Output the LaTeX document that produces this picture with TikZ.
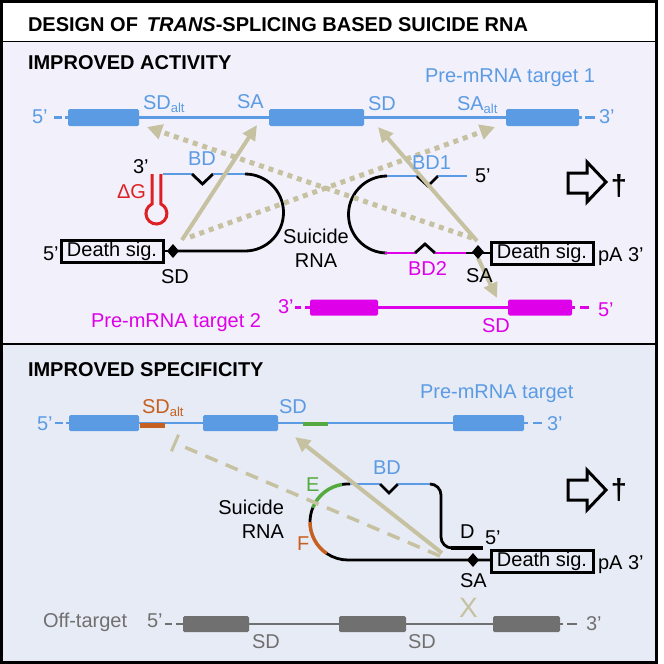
\documentclass[tikz,border=0pt]{standalone}
\usepackage{fontspec}
\setmainfont{Liberation Sans}
\usetikzlibrary{arrows.meta,shapes.geometric,calc}
\definecolor{tblue}{RGB}{91,155,228}
\definecolor{tmag}{RGB}{222,0,232}
\definecolor{tred}{RGB}{222,32,36}
\definecolor{khaki}{RGB}{198,193,160}
\definecolor{torange}{RGB}{198,96,32}
\definecolor{tgreen}{RGB}{84,170,64}
\definecolor{tgray}{RGB}{112,112,112}
\definecolor{bgtop}{RGB}{242,241,251}
\definecolor{bgbot}{RGB}{231,235,245}
\newcommand{\altsub}{\raisebox{-3pt}{\fontsize{13}{13}\selectfont alt}}
\begin{document}
\begin{tikzpicture}[x=1pt,y=-1pt,
  every node/.style={inner sep=0pt,outer sep=0pt},
  lbl/.style={anchor=base west,font=\fontsize{20}{24}\selectfont},
  ctr/.style={anchor=base,font=\fontsize{20}{24}\selectfont},
  hdr/.style={anchor=base west,font=\bfseries\fontsize{20}{24}\selectfont},
  exon/.style={rounded corners=1.5pt},
  tline/.style={line width=2.5pt},
  rna/.style={line width=2.8pt,draw=black},
  dsbox/.style={draw=black,line width=3pt,minimum width=102pt,minimum height=22pt,font=\fontsize{20}{24}\selectfont},
  site/.style={shape=diamond,fill=black,minimum width=12pt,minimum height=14pt},
  solidarr/.style={draw=khaki,line width=4pt,-{Triangle[length=15pt,width=14pt]}},
  dotarr/.style={draw=khaki,line width=5pt,dash pattern=on 5pt off 5pt,-{Triangle[length=15pt,width=15pt]}},
  blockarr/.style={draw=black,line width=3pt,line join=miter},
  dag/.style={font=\bfseries\fontsize{29}{29}\selectfont}
]
\useasboundingbox (0,0) rectangle (664,664);
% backgrounds and frame
\fill[white] (0,0) rectangle (664,664);
\fill[bgtop] (1.5,41.5) rectangle (656,344);
\fill[bgbot] (1.5,344) rectangle (656,662);
\draw[line width=3pt] (1.5,1.5) rectangle (656,662.5);
\draw[line width=1.5pt] (1.5,41.5) -- (656,41.5);
\draw[line width=2pt] (1.5,344) -- (656,344);

\node[hdr] (title) at (28,31) {DESIGN OF \,\textit{TRANS}-SPLICING BASED SUICIDE RNA};

%================ TOP PANEL =================
\node[hdr] (h1) at (28,69) {IMPROVED ACTIVITY};
% target 1
\draw[tline,tblue] (68,117.5) -- (579,117.5);
\draw[tline,tblue] (54,117.5) -- (62,117.5) (65,117.5) -- (68,117.5);
\draw[tline,tblue] (579,117.5) -- (582,117.5) (585,117.5) -- (595,117.5);
\fill[tblue,exon] (68,109) rectangle (139,126);
\fill[tblue,exon] (269,109) rectangle (364,126);
\fill[tblue,exon] (506,109) rectangle (579,126);

% target 2
\draw[tline,tmag] (310,307.5) -- (572,307.5);
\draw[tline,tmag] (295,307.5) -- (301,307.5) (305,307.5) -- (310,307.5);
\draw[tline,tmag] (572,307.5) -- (575,307.5) (580,307.5) -- (589,307.5);
\fill[tmag,exon] (310,299.5) rectangle (378,315.5);
\fill[tmag,exon] (508,299.5) rectangle (572,315.5);

% suicide RNA left
\draw[tline,tblue] (163,174) -- (192,174);
\draw[rna,line join=miter] (192,174) -- (202.5,184) -- (213,174);
\draw[tline,tblue] (213,174) -- (245,174);
\draw[rna] (245,174) arc[start angle=-90,end angle=90,radius=38.5] -- (178,251);
% hairpin
\draw[line width=3pt,tred] (152,174) -- (152,204) arc[start angle=245,end angle=-65,radius=10.5] -- (161,174);

% suicide RNA right
\draw[tline,tblue] (387,176) -- (417,176);
\draw[rna,line join=miter] (417,176) -- (428,186) -- (438,176);
\draw[tline,tblue] (438,176) -- (467,176);
\draw[rna] (387,176) arc[start angle=270,end angle=90,radius=38.5];
\draw[tline,tmag] (385,253) -- (415,253);
\draw[rna,line join=miter] (415,253) -- (425,244) -- (435,253);
\draw[tline,tmag] (435,253) -- (466,253);
\draw[rna] (466,253) -- (492,253);

\node[dsbox] (boxL) at (112,251) {Death sig.};
\node[dsbox] (boxR) at (542,253.5) {Death sig.};
\draw[rna] (163,251) -- (173,251);

% arrows top
\coordinate (aSD) at (182,240);
\coordinate (aSD2) at (190,237);
\coordinate (aSA) at (477,241);
\coordinate (aSA2) at (472,238);
\coordinate (aSA3) at (478,258);
\coordinate (tSA) at (257,125);
\coordinate (tSAalt) at (495,127);
\coordinate (tSD) at (378,127);
\coordinate (tSDalt) at (147,127);
\coordinate (tSDm) at (497,298);
\draw[dotarr] (aSD2) -- (tSAalt);
\draw[dotarr] (aSA2) -- (tSDalt);
\draw[solidarr] (aSD) -- (tSA);
\draw[solidarr] (aSA) -- (tSD);
\draw[solidarr] (aSA3) -- (tSDm);

\node[site] (dL) at (173,251) {};
\node[site] (dR) at (478,252) {};

% labels top
\node[lbl,text=tblue] (pm1) at (425,82) {Pre-mRNA target 1};
\node[lbl,text=tblue] (sdalt1) at (143,109) {SD\altsub};
\node[lbl,text=tblue] (sa1) at (237,108.5) {SA};
\node[lbl,text=tblue] (sd1) at (368,110) {SD};
\node[lbl,text=tblue] (saalt1) at (457,110) {SA\altsub};
\node[lbl,text=tblue] (f5a) at (32,123.5) {5’};
\node[lbl,text=tblue] (t3a) at (599,123.5) {3’};
\node[lbl] (l3) at (133,173) {3’};
\node[lbl,text=tblue] (bdl) at (188,165) {BD};
\node[lbl,text=tred] (dg) at (117,198) {ΔG};
\node[lbl] (l5) at (43,260) {5’};
\node[lbl] (sdL) at (161,283) {SD};
\node[ctr] (sui1) at (316,243) {Suicide};
\node[ctr] (sui2) at (316,267) {RNA};
\node[lbl,text=tblue] (bd1) at (412,169) {BD1};
\node[lbl] (r5) at (475,182) {5’};
\node[lbl,text=tmag] (bd2) at (408,275) {BD2};
\node[lbl] (saR) at (466,282) {SA};
\node[lbl] (pa1) at (598,261) {pA 3’};
\node[lbl,text=tmag] (m3) at (278,313) {3’};
\node[lbl,text=tmag] (m5) at (598,316) {5’};
\node[lbl,text=tmag] (pm2) at (91,327) {Pre-mRNA target 2};
\node[lbl,text=tmag] (sdm) at (482,332) {SD};

\draw[blockarr] (568,173) -- (587,173) -- (587,162) -- (606,182) -- (587,202) -- (587,193) -- (568,193) -- cycle;
\node[dag] (dag1) at (619,186) {†};

%================ BOTTOM PANEL =================
\node[hdr] (h2) at (28,376) {IMPROVED SPECIFICITY};
\draw[tline,tblue] (69,423) -- (524,423);
\draw[tline,tblue] (55,423) -- (63,423) (66,423) -- (69,423);
\draw[tline,tblue] (524,423) -- (528,423) (533,423) -- (542,423);
\fill[tblue,exon] (69,415) rectangle (139,431);
\fill[tblue,exon] (203,415) rectangle (278,431);
\fill[tblue,exon] (453,415) rectangle (524,431);
\draw[line width=4.5pt,torange] (140,425.5) -- (165,425.5);
\draw[line width=4.5pt,tgreen] (303,424) -- (328,424);

% off-target
\draw[tline,tgray] (183,624) -- (560,624);
\draw[tline,tgray] (165,624) -- (172,624) (176,624) -- (183,624);
\draw[tline,tgray] (560,624) -- (563,624) (567,624) -- (577,624);
\fill[tgray,exon] (183,616) rectangle (249,632);
\fill[tgray,exon] (339,616) rectangle (406,632);
\fill[tgray,exon] (493,616) rectangle (560,632);

% suicide RNA bottom
\coordinate (cc) at (348,522);
\draw[rna] (350,484) -- (348,484) arc[start angle=270,end angle=261,radius=38];
\draw[line width=3.5pt,tgreen] (cc) ++(261:38) arc[start angle=261,end angle=202,radius=38];
\draw[rna] (cc) ++(202:38) arc[start angle=202,end angle=180,radius=38];
\draw[line width=3.5pt,torange] (cc) ++(180:38) arc[start angle=180,end angle=124,radius=38];
\draw[rna] (cc) ++(124:38) arc[start angle=124,end angle=90,radius=38] -- (492,560);
\draw[tline,tblue] (350,484) -- (380,484);
\draw[rna,line join=miter] (380,484) -- (389,493) -- (398,484);
\draw[tline,tblue] (398,484) -- (430,484);
\draw[rna] (430,484) arc[start angle=270,end angle=360,radius=11] -- (441,537) arc[start angle=180,end angle=90,radius=11];
\draw[line width=4pt] (451,548) -- (483,548);
\node[dsbox] (boxB) at (542,561) {Death sig.};

% arrows bottom
\coordinate (bSA) at (442,553);
\coordinate (bSA2) at (440,556);
\coordinate (tSDb) at (295,437);
\coordinate (tSDaltb) at (175,443);
\draw[draw=khaki,line width=3.5pt,dash pattern=on 13pt off 9pt] (bSA2) -- ($(tSDaltb)!6pt!(bSA2)$);
\draw[draw=khaki,line width=3pt] ($(tSDaltb)!9pt!90:(bSA2)$) -- ($(tSDaltb)!9pt!-90:(bSA2)$);
\draw[solidarr] (bSA) -- (tSDb);
\node[site] (dB) at (473,560) {};

% labels bottom
\node[lbl,text=tblue] (pmb) at (420,398) {Pre-mRNA target};
\node[lbl,text=torange] (sdaltb) at (142,413) {SD\altsub};
\node[lbl,text=tblue] (sdb) at (279,413) {SD};
\node[lbl,text=tblue] (b5) at (37,430) {5’};
\node[lbl,text=tblue] (b3) at (547,430) {3’};
\node[lbl,text=tblue] (bdb) at (373,474) {BD};
\node[lbl,text=tgreen] (E) at (306,491) {E};
\node[lbl,text=torange] (F) at (297,550) {F};
\node[anchor=base east,font=\fontsize{20}{24}\selectfont] (suib1) at (284,514) {Suicide};
\node[anchor=base east,font=\fontsize{20}{24}\selectfont] (suib2) at (284,538) {RNA};
\node[lbl] (D) at (460,538) {D};
\node[lbl] (b5r) at (485,544) {5’};
\node[lbl] (pa2) at (598,569) {pA 3’};
\node[lbl] (saB) at (460,587) {SA};
\node[anchor=base west,text=khaki,font=\fontsize{28}{28}\selectfont] (X) at (459,617) {X};
\node[lbl,text=tgray] (off) at (43,627) {Off-target};
\node[lbl,text=tgray] (o5) at (147,627) {5’};
\node[lbl,text=tgray] (o3) at (586,630) {3’};
\node[lbl,text=tgray] (osd1) at (252,648) {SD};
\node[lbl,text=tgray] (osd2) at (408,648) {SD};

\draw[blockarr] (568,480) -- (587,480) -- (587,470) -- (606,490) -- (587,510) -- (587,500) -- (568,500) -- cycle;
\node[dag] (dag2) at (619,490) {†};
\end{tikzpicture}
\end{document}
